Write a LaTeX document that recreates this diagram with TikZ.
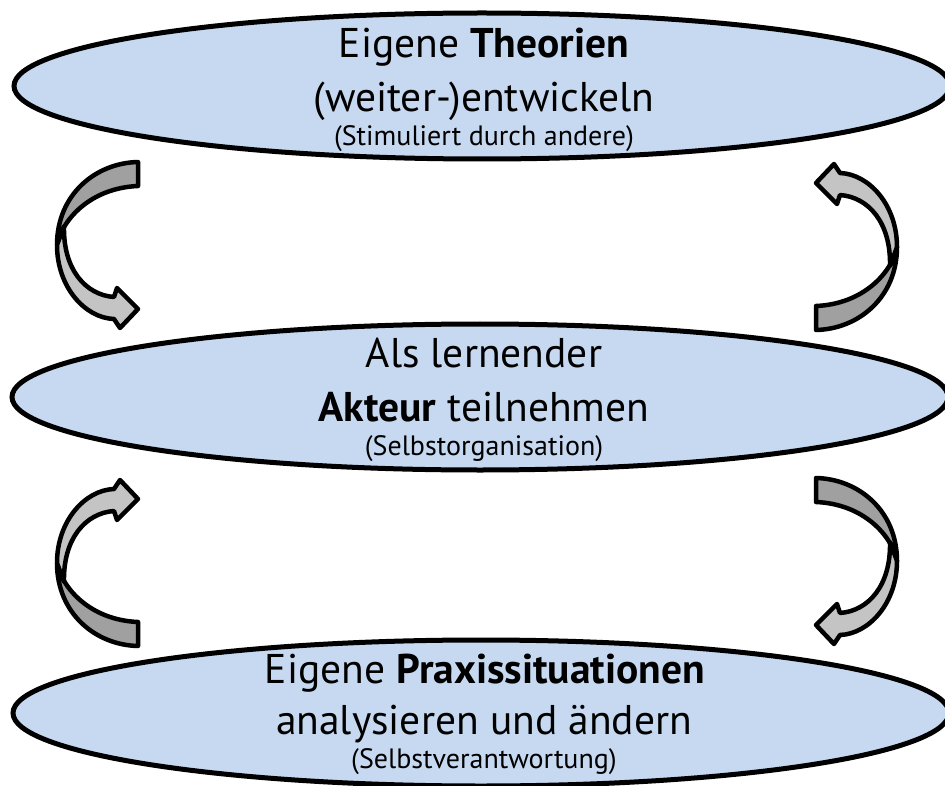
\documentclass[tikz,border=0pt]{standalone}
\usepackage{fontspec}
\setmainfont{PT Sans}
\usetikzlibrary{shapes.geometric}
\definecolor{ellfill}{HTML}{C6D9F1}
\definecolor{arrdark}{HTML}{A0A0A0}
\definecolor{arrlight}{HTML}{C4C4C4}
\tikzset{
  bubble/.style={ellipse, draw=black, line width=5pt, fill=ellfill, minimum width=936pt, minimum height=146pt, inner sep=0pt},
  bigtxt/.style={anchor=base, inner sep=0pt, font=\fontsize{41.5}{44}\selectfont},
  smalltxt/.style={anchor=base, inner sep=0pt, font=\fontsize{28}{30}\selectfont},
  arrpart/.style={draw=black, line width=4.5pt, line join=round},
}
\newcommand{\curvedarrow}{%
  \path[arrpart, fill=arrdark] (138,162) .. controls (95,163) and (57,195) .. (57,245)
     .. controls (62,220) and (90,188) .. (138,186) -- cycle;
  \path[arrpart, fill=arrlight] (57,245) .. controls (57,287) and (85,318) .. (114,319)
     -- (120,328) -- (138,309) -- (117,288) -- (114,297)
     .. controls (86,295) and (63,270) .. (64,226) -- cycle;
}
\begin{document}
\begin{tikzpicture}[x=1pt,y=-1pt]
\useasboundingbox (0,0) rectangle (945,786);
% ellipses
\node[bubble] (top) at (482,86) {};
\node[bubble] (mid) at (480,397) {};
\node[bubble] (bot) at (481,713) {};
% texts
\node[bigtxt] (t1) at (484,58) {Eigene \textbf{Theorien}};
\node[bigtxt] (t2) at (484,112) {(weiter-)entwickeln};
\node[smalltxt] (t3) at (484,146) {(Stimuliert durch andere)};
\node[bigtxt] (m1) at (484,367) {Als lernender};
\node[bigtxt] (m2) at (484,421) {\textbf{Akteur} teilnehmen};
\node[smalltxt] (m3) at (484,455) {(Selbstorganisation)};
\node[bigtxt] (b1) at (485,683) {Eigene \textbf{Praxissituationen}};
\node[bigtxt] (b2) at (484,734) {analysieren und ändern};
\node[smalltxt] (b3) at (484,768) {(Selbstverantwortung)};
% arrows
\begin{scope}\curvedarrow\end{scope}
\begin{scope}[shift={(0,808)}, yscale=-1]\curvedarrow\end{scope}
\begin{scope}[rotate around={180:(477,246)}]\curvedarrow\end{scope}
\begin{scope}[shift={(954,316)}, xscale=-1]\curvedarrow\end{scope}
\end{tikzpicture}
\end{document}
